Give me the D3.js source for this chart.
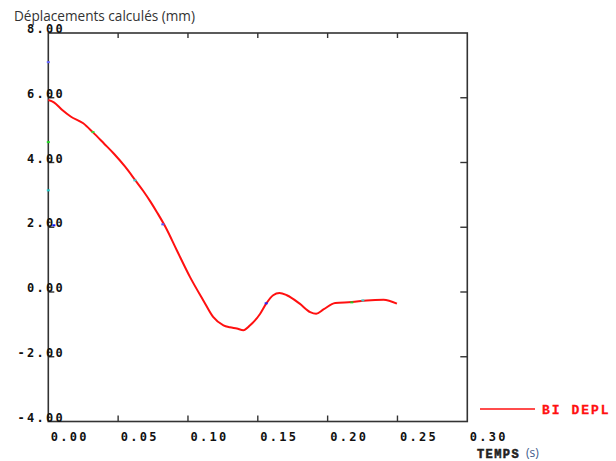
<!DOCTYPE html>
<html>
<head>
<meta charset="utf-8">
<script src="https://cdn.jsdelivr.net/npm/d3@7"></script>
<style>
  body { margin: 0; background: #fff; }
  svg { display: block; }
  .tick-label { font-family: "DejaVu Sans Mono", monospace; font-weight: bold; font-size: 12px; letter-spacing: 2.3px; fill: #111; }
</style>
</head>
<body>
<svg width="616" height="461"></svg>
<script>
const width = 616;
const height = 461;

// time (s) and displacement (mm)
const times = [0.000, 0.004, 0.010, 0.016, 0.025, 0.032, 0.040, 0.047, 0.055, 0.062,
  0.068, 0.073, 0.078, 0.084, 0.092, 0.1015, 0.111, 0.118, 0.1254, 0.130,
  0.135, 0.1397, 0.1445, 0.1517, 0.156, 0.161, 0.1655, 0.1708, 0.180, 0.1875,
  0.1918, 0.197, 0.2054, 0.2173, 0.228, 0.240, 0.2496];
const depl = [5.93, 5.86, 5.62, 5.42, 5.21, 4.93, 4.58, 4.27, 3.87, 3.47,
  3.12, 2.80, 2.45, 2.00, 1.29, 0.46, -0.26, -0.77, -1.03, -1.09,
  -1.13, -1.18, -1.03, -0.67, -0.36, -0.10, -0.03, -0.10, -0.36, -0.62,
  -0.67, -0.54, -0.34, -0.31, -0.26, -0.24, -0.36];

const xTicks = [0.00, 0.05, 0.10, 0.15, 0.20, 0.25, 0.30];
const yTicks = [-4, -2, 0, 2, 4, 6, 8];

// little coloured specks left on the plot
const speckT = [0.032, 0.062, 0.082, 0.156, 0.2173, 0.2252, 0, 0, 0, 0.004];
const speckV = [4.94, 3.45, 2.09, -0.35, -0.32, -0.26, 7.1, 4.63, 3.14, 2.06];
const speckC = ["#33dd33", "#33cccc", "#5555ff", "#2222ff", "#22cc22", "#33cccc", "#6666ff", "#22dd22", "#22cccc", "#1111ee"];

const legendLabel = "BI DEPL";

const svg = d3.select("svg");

const x = d3.scaleLinear().domain([0, 0.30]).range([48.3, 467.3]);
const y = d3.scaleLinear().domain([-4, 8]).range([421.5, 33]);

// title
svg.append("text")
  .attr("x", 14).attr("y", 20.5)
  .style("font-family", "Open Sans")
  .style("font-size", "13.6px")
  .style("fill", "#333")
  .text("Déplacements calculés (mm)");

// frame
svg.append("rect")
  .attr("x", x(0)).attr("y", y(8))
  .attr("width", x(0.30) - x(0)).attr("height", y(-4) - y(8))
  .attr("fill", "none").attr("stroke", "#333").attr("stroke-width", 1.6);

const ticks = svg.append("g").attr("stroke", "#333").attr("stroke-width", 1.4);
xTicks.slice(1, -1).forEach(t => {
  ticks.append("line").attr("x1", x(t)).attr("x2", x(t)).attr("y1", y(-4)).attr("y2", y(-4) - 6);
  ticks.append("line").attr("x1", x(t)).attr("x2", x(t)).attr("y1", y(8)).attr("y2", y(8) + 5);
});
yTicks.slice(1, -1).forEach(v => {
  ticks.append("line").attr("x1", x(0)).attr("x2", x(0) + 6).attr("y1", y(v)).attr("y2", y(v));
  ticks.append("line").attr("x1", x(0.30)).attr("x2", x(0.30) - 7).attr("y1", y(v)).attr("y2", y(v));
});

// tick labels
svg.selectAll(".ylab").data(yTicks).enter().append("text")
  .attr("class", "tick-label")
  .attr("x", 65)
  .attr("y", d => y(d))
  .attr("text-anchor", "end")
  .text(d => d.toFixed(2));

svg.selectAll(".xlab").data(xTicks).enter().append("text")
  .attr("class", "tick-label")
  .attr("x", d => x(d) + 2.5)
  .attr("y", 441)
  .text(d => d.toFixed(2));

// curve
const line = d3.line()
  .x(i => x(times[i]))
  .y(i => y(depl[i]))
  .curve(d3.curveMonotoneX);

svg.append("path")
  .datum(d3.range(times.length))
  .attr("d", line)
  .attr("fill", "none")
  .attr("stroke", "#ff1010")
  .attr("stroke-width", 2);

svg.selectAll(".speck").data(d3.range(speckT.length)).enter().append("rect")
  .attr("x", i => x(speckT[i]) - 1.5)
  .attr("y", i => y(speckV[i]) - 1)
  .attr("width", 3).attr("height", 2)
  .attr("fill", i => speckC[i]);

// legend
svg.append("line")
  .attr("x1", 480).attr("x2", 535).attr("y1", 409).attr("y2", 409)
  .attr("stroke", "#ff1010").attr("stroke-width", 1.6);
svg.append("text")
  .attr("x", 542).attr("y", 413.5)
  .style("font-family", "Liberation Mono").style("font-weight", "bold")
  .style("font-size", "13px").style("letter-spacing", "2px")
  .style("fill", "#ff1010").style("stroke", "#ff1010").style("stroke-width", 0.3)
  .text(legendLabel);

// x axis title
svg.append("text")
  .attr("x", 477).attr("y", 458)
  .style("font-family", "Liberation Mono").style("font-weight", "bold")
  .style("font-size", "12px").style("letter-spacing", "1.4px")
  .style("fill", "#222").style("stroke", "#222").style("stroke-width", 0.5)
  .text("TEMPS");
svg.append("text")
  .attr("x", 526).attr("y", 457)
  .style("font-family", "Open Sans").style("font-size", "12px")
  .style("fill", "#3d5a8a")
  .text("(s)");
</script>
</body>
</html>
